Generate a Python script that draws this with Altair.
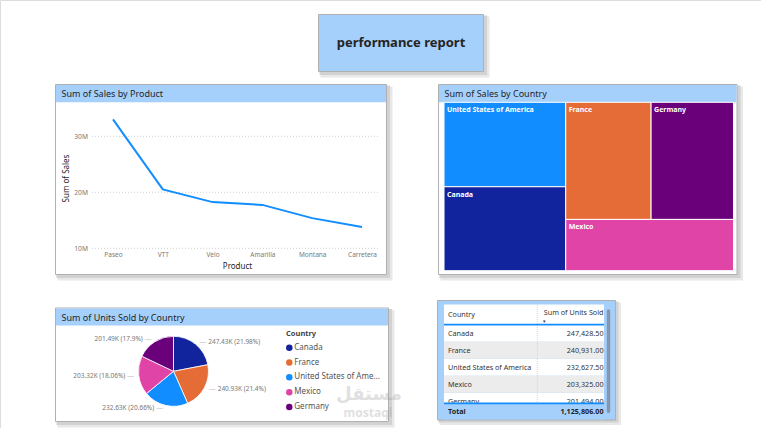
import math
import altair as alt
import pandas as pd

FONT = "Noto Sans"

# ---------------- data ----------------
products = ["Paseo", "VTT", "Velo", "Amarilla", "Montana", "Carretera"]
product_sales = [33.01e6, 20.51e6, 18.25e6, 17.75e6, 15.39e6, 13.82e6]
sales_ticks = [10e6, 20e6, 30e6]

tm_countries = ["United States of America", "Canada", "France", "Germany", "Mexico"]
tm_sales = [25.03e6, 24.89e6, 24.35e6, 23.51e6, 20.95e6]

pie_countries = ["Canada", "France", "United States of America", "Mexico", "Germany"]
pie_units = [247428.5, 240931.0, 232627.5, 203325.0, 201494.0]

table_countries = ["Canada", "France", "United States of America", "Mexico", "Germany"]
table_units = [247428.50, 240931.00, 232627.50, 203325.00, 201494.00]
table_total = 1125806.00

country_colors = {
    "Canada": "#12239e",
    "France": "#e66c37",
    "United States of America": "#118dff",
    "Mexico": "#e044a7",
    "Germany": "#6b007b",
}
LIGHT = "#a5d0fb"
BORDER = "#b0b0b0"
DARK = "#252423"

# ---------------- helpers (decorations) ----------------
ONE = pd.DataFrame({"k": [0]})


def rect(x0, y0, x1, y1, **kw):
    return alt.Chart(ONE).mark_rect(**kw).encode(
        x=alt.value(x0), x2=alt.value(x1), y=alt.value(y0), y2=alt.value(y1)
    )


def txt(s, x, y, **kw):
    kw.setdefault("font", FONT)
    kw.setdefault("baseline", "middle")
    return alt.Chart(ONE).mark_text(text=s, **kw).encode(x=alt.value(x), y=alt.value(y))


def panel(x0, y0, x1, y1, fill="white"):
    return [
        rect(x0 + 2, y0 + 2, x1 + 6, y1 + 6, fill="#e8e8e8"),
        rect(x0 + 1, y0 + 1, x1 + 3.5, y1 + 3.5, fill="#d2d2d2"),
        rect(x0, y0, x1, y1, fill=fill, stroke=BORDER, strokeWidth=1),
    ]


layers = []

# ---------------- title box ----------------
layers += panel(318.5, 14.5, 483.5, 71.5, fill=LIGHT)
layers.append(txt("performance report", 401, 42.5, fontSize=13, fontWeight="bold",
                  color=DARK, align="center"))

# ---------------- line chart panel ----------------
layers += panel(55.5, 84.5, 386.5, 274.5)
layers.append(rect(56, 85, 386, 102.3, fill=LIGHT))
layers.append(txt("Sum of Sales by Product", 61.5, 93.8, fontSize=9, color=DARK, align="left"))

line_df = pd.DataFrame({"product": products, "sales": product_sales})
grid_df = pd.DataFrame({"sales": sales_ticks})

x_line = alt.X(
    "product:N",
    sort=products,
    scale=alt.Scale(type="point", domain=products, range=[113, 362], padding=0),
    axis=alt.Axis(
        orient="bottom", offset=-176.5, domain=False, ticks=False, grid=False,
        labelPadding=0, labelFontSize=6.5, labelColor="#7a7a7a", labelAngle=0,
        labelFont=FONT, title="Product", titleFont=FONT, titleFontSize=8,
        titleFontWeight="normal", titleColor=DARK, titleX=237, titleY=14.5,
        titleAlign="center", titleBaseline="middle", zindex=2,
    ),
)
y_line = alt.Y(
    "sales:Q",
    scale=alt.Scale(domain=[10e6, 35e6], range=[248.3, 108.3], nice=False, zero=False),
    axis=alt.Axis(
        orient="left", offset=-89, values=sales_ticks, format="~s", domain=False,
        ticks=False, grid=False, labelPadding=1.5, labelFontSize=6.7,
        labelColor="#7a7a7a", labelFont=FONT, title="Sum of Sales", titleFont=FONT,
        titleFontSize=8, titleFontWeight="normal", titleColor=DARK, titleX=-23,
        titleY=178, titleAngle=270, titleAlign="center", titleBaseline="middle",
        zindex=2,
    ),
)
grid = alt.Chart(grid_df).mark_rule(color="#cfcfcf", strokeDash=[1, 2], strokeWidth=1).encode(
    y=y_line, x=alt.value(92), x2=alt.value(380)
)
line = alt.Chart(line_df).mark_line(color="#118dff", strokeWidth=2).encode(x=x_line, y=y_line)
layers.append(alt.layer(grid, line))

# ---------------- treemap panel ----------------
layers += panel(438.5, 84.5, 737, 274.5)
layers.append(rect(439, 85, 736.5, 102.3, fill=LIGHT))
layers.append(txt("Sum of Sales by Country", 444.5, 93.8, fontSize=9, color=DARK, align="left"))

s = dict(zip(tm_countries, tm_sales))
total_sales = sum(tm_sales)
c1 = s["United States of America"] + s["Canada"]
usa_h = s["United States of America"] / c1
fg = s["France"] + s["Germany"]
top_h = fg / (fg + s["Mexico"])
fr_w = (total_sales - c1) * s["France"] / fg
tm_df = pd.DataFrame({
    "country": ["United States of America", "Canada", "France", "Germany", "Mexico"],
    "x0": [0, 0, c1, c1 + fr_w, c1],
    "x1": [c1, c1, c1 + fr_w, total_sales, total_sales],
    "y0": [0, usa_h, 0, 0, top_h],
    "y1": [usa_h, 1, top_h, top_h, 1],
})
tm_x = alt.Scale(domain=[0, total_sales], range=[444, 733.5], nice=False, zero=False)
tm_y = alt.Scale(domain=[0, 1], range=[102.3, 270.7], nice=False, zero=False)
tm_fill = alt.Scale(domain=list(country_colors.keys()), range=list(country_colors.values()))
tm_rect = alt.Chart(tm_df).mark_rect(stroke="white", strokeWidth=1).encode(
    x=alt.X("x0:Q", scale=tm_x, axis=None),
    x2="x1:Q",
    y=alt.Y("y0:Q", scale=tm_y, axis=None),
    y2="y1:Q",
    fill=alt.Fill("country:N", scale=tm_fill, legend=None),
)
tm_text = alt.Chart(tm_df).mark_text(
    align="left", baseline="middle", dx=3, dy=8, fontSize=7, fontWeight="bold",
    color="white", font=FONT,
).encode(
    x=alt.X("x0:Q", scale=tm_x, axis=None),
    y=alt.Y("y0:Q", scale=tm_y, axis=None),
    text="country:N",
)
layers.append(alt.layer(tm_rect, tm_text))

# ---------------- pie panel ----------------
layers += panel(55.5, 308, 388.5, 421.5)
layers.append(rect(56, 308.5, 388, 325.5, fill=LIGHT))
layers.append(txt("Sum of Units Sold by Country", 61.5, 317.5, fontSize=9, color=DARK, align="left"))

total_units = sum(pie_units)
starts, ends, mids, labels = [], [], [], []
acc = 0.0
for u in pie_units:
    starts.append(acc)
    ends.append(acc + u)
    mids.append(acc + u / 2)
    acc += u
    pct = f"{100 * u / total_units:.2f}".rstrip("0").rstrip(".")
    labels.append(f"{u / 1000:.2f}K ({pct}%)")
pie_df = pd.DataFrame({
    "country": pie_countries, "units": pie_units, "start": starts, "end": ends,
    "mid": mids, "label": labels,
})
pie_df["right"] = pie_df["mid"] < total_units / 2

theta_scale = alt.Scale(domain=[0, total_units], range=[0, 2 * math.pi])
color_scale = alt.Scale(domain=list(country_colors.keys()), range=list(country_colors.values()))
CX, CY = 173.5, 371.3

arc = alt.Chart(pie_df).mark_arc(radius=35, stroke="white", strokeWidth=0.8).encode(
    theta=alt.Theta("start:Q", scale=theta_scale, stack=None),
    theta2="end:Q",
    color=alt.Color("country:N", scale=color_scale, legend=None),
    x=alt.value(CX),
    y=alt.value(CY),
)


def pie_text(df, dx, align, text_field=None, const=None, size=6.5, color="#777", radius=38):
    kw = dict(align=align, baseline="middle", dx=dx, fontSize=size, color=color, font=FONT)
    if const is not None:
        kw["text"] = const
    enc = dict(
        theta=alt.Theta("mid:Q", scale=theta_scale, stack=None),
        radius=alt.value(radius),
        x=alt.value(CX),
        y=alt.value(CY),
    )
    if text_field:
        enc["text"] = text_field
    return alt.Chart(df).mark_text(**kw).encode(**enc)


right_df = pie_df[pie_df["right"]]
left_df = pie_df[~pie_df["right"]]
pie_layers = [
    arc,
    pie_text(right_df, 5, "center", const="—", size=7, color="#c4c4c4"),
    pie_text(left_df, -5, "center", const="—", size=7, color="#c4c4c4"),
    pie_text(right_df, 10.5, "left", text_field="label:N"),
    pie_text(left_df, -10.5, "right", text_field="label:N"),
]
layers.append(alt.layer(*pie_layers))

# legend (drawn from the same colour scale, one row per country)
leg_df = pd.DataFrame({"country": pie_countries})
leg_y = alt.Y("country:N", sort=pie_countries, axis=None,
              scale=alt.Scale(type="point", domain=pie_countries, range=[347.7, 407], padding=0))
leg_dots = alt.Chart(leg_df).mark_point(filled=True, shape="circle", size=42, opacity=1).encode(
    y=leg_y, x=alt.value(289.3),
    color=alt.Color("country:N", scale=color_scale, legend=None),
)
leg_text = alt.Chart(leg_df).mark_text(
    align="left", baseline="middle", fontSize=8, color="#555", font=FONT,
    limit=88, ellipsis="...",
).encode(y=leg_y, x=alt.value(294.3), text="country:N")
layers.append(alt.layer(leg_dots, leg_text))
layers.append(txt("Country", 286, 334.3, fontSize=7.5, fontWeight="bold", color="#444",
                  align="left"))

# watermark
layers.append(txt("مستقل", 369, 394.5, fontSize=18, fontWeight="bold", color="#9a9a9a",
                  opacity=0.3, align="center", font="DejaVu Sans"))
layers.append(txt("mostaql", 368, 413, fontSize=12, fontWeight="bold", color="#9a9a9a",
                  opacity=0.3, align="center"))

# ---------------- table panel ----------------
layers.append(rect(439.5, 302.5, 621, 425, fill="#e8e8e8"))
layers.append(rect(438.5, 301.5, 618.5, 422.5, fill="#d2d2d2"))
layers.append(rect(437.5, 300.5, 615.5, 420, fill=LIGHT, stroke=BORDER, strokeWidth=1))
layers.append(rect(444, 304.5, 604, 324.5, fill="white"))

tbl_df = pd.DataFrame({
    "country": table_countries,
    "units": [f"{v:,.2f}" for v in table_units],
    "row": list(range(len(table_countries))),
})
row_scale = alt.Scale(type="band", domain=table_countries, range=[324.8, 409.8],
                      paddingInner=0, paddingOuter=0)
row_y = alt.Y("country:N", scale=row_scale, axis=None, sort=table_countries)
rows_white = alt.Chart(tbl_df[tbl_df["row"] % 2 == 0]).mark_rect(fill="white").encode(
    y=row_y, x=alt.value(444), x2=alt.value(604))
rows_gray = alt.Chart(tbl_df[tbl_df["row"] % 2 == 1]).mark_rect(fill="#ececec").encode(
    y=row_y, x=alt.value(444), x2=alt.value(604))
col1 = alt.Chart(tbl_df).mark_text(align="left", baseline="middle", dy=0.5, fontSize=7.2,
                                   color="#333", font=FONT).encode(
    y=row_y, x=alt.value(448), text="country:N")
col2 = alt.Chart(tbl_df).mark_text(align="right", baseline="middle", dy=0.5, fontSize=7.2,
                                   color="#333", font=FONT).encode(
    y=row_y, x=alt.value(603.5), text="units:N")
layers.append(alt.layer(rows_white, rows_gray, col1, col2))

# column separator (dotted)
layers.append(alt.Chart(ONE).mark_rule(color="#d8d8d8", strokeDash=[1, 1]).encode(
    x=alt.value(537.3), y=alt.value(305), y2=alt.value(403)))
layers.append(txt("Country", 448, 314.5, fontSize=7.2, color="#333", align="left"))
layers.append(txt("Sum of Units Sold", 603.5, 312.8, fontSize=7.2, color="#333", align="right"))
layers.append(txt("▾", 544.3, 320.6, fontSize=5, color="#333", align="center"))
layers.append(rect(444, 323.8, 604, 325.4, fill="#118dff"))
# total row
layers.append(rect(444, 403.5, 604, 419.5, fill=LIGHT))
layers.append(rect(444, 402.6, 604, 404.2, fill="#118dff"))
layers.append(txt("Total", 448, 411.7, fontSize=7.2, fontWeight="bold", color="#222", align="left"))
layers.append(txt(f"{table_total:,.2f}", 603.5, 411.7, fontSize=7.2, fontWeight="bold",
                  color="#222", align="right"))
# scrollbar
layers.append(rect(606.8, 309.5, 610.2, 413, fill="#8596ad", cornerRadius=1.5))

chart = (
    alt.layer(*layers)
    .resolve_scale(x="independent", y="independent")
    .properties(width=761, height=428, padding=0, autosize="none", background="white")
    .configure_view(stroke=None)
    .configure(font=FONT)
)

chart.save("out.html", embed_options={"renderer": "svg", "actions": False})
